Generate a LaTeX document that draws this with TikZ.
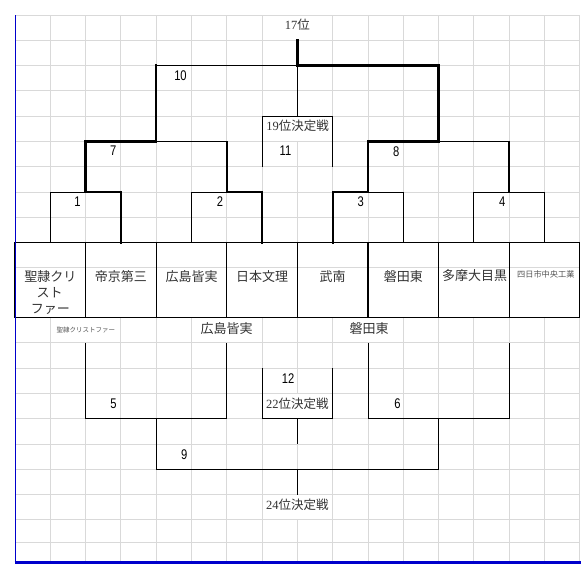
\documentclass[tikz,border=0pt]{standalone}
\usepackage{fontspec}
\usepackage{graphicx}
\newfontfamily\cjk{Noto Sans CJK JP}
\newfontfamily\serifd{Liberation Serif}
\newfontfamily\numf{Liberation Sans}
\definecolor{gridgray}{HTML}{D9D9D9}
\definecolor{tcol}{HTML}{333333}
\definecolor{smallcol}{HTML}{555555}
\definecolor{edgeblue}{HTML}{0000CC}
\begin{document}
\begin{tikzpicture}[x=1pt,y=-1pt,
  gridline/.style={draw=gridgray,line width=1pt},
  thinl/.style={draw=black,line width=1pt,line join=miter},
  medl/.style={draw=black,line width=1.7pt,line join=miter,line cap=rect},
  midl/.style={draw=black,line width=1.3pt,line join=miter},
  thkl/.style={draw=black,line width=2.4pt,line join=miter,line cap=rect},
  teambox/.style={draw=black,line width=1.3pt,minimum width=70.6pt,minimum height=74.8pt,inner sep=0pt,outer sep=0pt},
  team/.style={font=\cjk\fontsize{13}{16.5}\selectfont,text=tcol,align=center,inner sep=0pt},
  lbl/.style={font=\fontsize{12.5}{15}\selectfont,text=tcol,inner sep=0pt},
  num/.style={font=\numf\fontsize{14}{16}\selectfont,text=black,inner sep=0pt},
  tiny/.style={font=\cjk\fontsize{6.5}{8}\selectfont,text=smallcol,inner sep=0pt}
]
\useasboundingbox (0,0) rectangle (587,570);
\fill[white] (0,0) rectangle (587,570);
% grid: horizontal lines
\foreach \y in {15,40.3,65.6,90.9,116.2,141.5,166.8,192.1,217.4,267.6,342.8,368.1,393.4,418.7,444,469.3,494.6,519.9,542}
  \draw[gridline] (15,\y) -- (579.8,\y);
% grid: vertical lines
\foreach \x in {50.3,85.6,120.9,156.2,191.5,226.8,262.1,297.4,332.7,368,403.3,438.6,473.9,509.2,544.5,579.8}{
  \draw[gridline] (\x,15) -- (\x,242.7);
  \draw[gridline] (\x,317.5) -- (\x,563);
}
% merged cells: hide grid lines
\fill[white] (296,15.6) rectangle (298.8,39.7);
\fill[white] (296,116.8) rectangle (298.8,140.9);
\fill[white] (84.2,318.1) rectangle (87,342.2);
\fill[white] (225.4,318.1) rectangle (228.2,342.2);
\fill[white] (366.6,318.1) rectangle (369.4,342.2);
\fill[white] (296,394) rectangle (298.8,418.1);
\fill[white] (296,495.2) rectangle (298.8,519.3);
% team boxes
\node[teambox] (t1) at (50.3,280.1) {};
\node[teambox] (t2) at (120.9,280.1) {};
\node[teambox] (t3) at (191.5,280.1) {};
\node[teambox] (t4) at (262.1,280.1) {};
\node[teambox] (t5) at (332.7,280.1) {};
\node[teambox] (t6) at (403.3,280.1) {};
\node[teambox] (t7) at (473.9,280.1) {};
\node[teambox] (t8) at (544.5,280.1) {};
\draw[gridline] (16,267.6) -- (579,267.6);
\foreach \x in {85.6,156.2,226.8,297.4,368,438.6,509.2}
  \draw[black,line width=1.3pt] (\x,242.7) -- (\x,317.5);
\draw[black,line width=1.3pt] (15,242.7) rectangle (579.8,317.5);
% team names
\node[team] (n1a) at (50.3,276.3) {聖隷クリ};
\node[team] (n1b) at (49.5,293) {スト};
\node[team] (n1c) at (50.3,309.3) {ファー};
\node[team] (n2) at (120.9,276.3) {帝京第三};
\node[team] (n3) at (191.5,276.3) {広島皆実};
\node[team] (n4) at (262.1,276.3) {日本文理};
\node[team] (n5) at (332.7,276.3) {武南};
\node[team] (n6) at (403.3,276.3) {磐田東};
\node[team] (n7) at (474.7,275.8) {多摩大目黒};
\node[font=\cjk\fontsize{8.2}{10}\selectfont,text=smallcol,inner sep=0pt] (n8) at (545.8,274) {四日市中央工業};
% upper bracket: thin parts
\draw[thinl] (t1.north) -- (50.3,192.1) -- (85.6,192.1);
\draw[thinl] (t3.north) -- (191.5,192.1) -- (226.8,192.1);
\draw[thinl] (t6.north) -- (403.3,192.1) -- (368,192.1);
\draw[thinl] (t7.north) -- (473.9,192.1) -- (544.5,192.1) -- (t8.north);
\draw[thinl] (262.1,166.8) -- (262.1,116.2) -- (332.7,116.2) -- (332.7,166.8);
\draw[thinl] (297.4,65.6) -- (297.4,116.2);
% medium parts
\draw[midl] (156.2,65.6) -- (297.4,65.6);
\draw[medl] (226.8,192.1) -- (226.8,141.5) -- (156.2,141.5);
\draw[medl] (438.6,141.5) -- (509.2,141.5) -- (509.2,192.1);
% thick winner paths
\draw[thkl] (t2.north) -- (120.9,192.1) -- (85.6,192.1) -- (85.6,141.5) -- (156.2,141.5) -- (156.2,65.6);
\draw[thkl] (t4.north) -- (262.1,192.1) -- (226.8,192.1);
\draw[thkl] (t5.north) -- (332.7,192.1) -- (368,192.1) -- (368,141.5) -- (438.6,141.5) -- (438.6,65.6) -- (297.4,65.6) -- (297.4,40.3);
% upper labels
\node[lbl] (p17) at (297.4,24.7) {{\serifd 17}{\cjk 位}};
\node[lbl] (p19) at (297.7,126) {{\serifd 19}{\cjk 位決定戦}};
\node[num] (m10) at (180.5,76) {\scalebox{0.8}[1]{10}};
\node[num] (m7) at (113.3,151) {\scalebox{0.8}[1]{7}};
\node[num] (m11) at (285.5,150.5) {\scalebox{0.8}[1]{11}};
\node[num] (m8) at (396.3,151.3) {\scalebox{0.8}[1]{8}};
\node[num] (m1) at (77.5,201.7) {\scalebox{0.8}[1]{1}};
\node[num] (m2) at (220,201.7) {\scalebox{0.8}[1]{2}};
\node[num] (m3) at (360.7,201.7) {\scalebox{0.8}[1]{3}};
\node[num] (m4) at (502.3,201.7) {\scalebox{0.8}[1]{4}};
% lower labels
\node[tiny] (s1) at (85.8,330) {聖隷クリストファー};
\node[team] (s2) at (226.7,328.3) {広島皆実};
\node[team] (s3) at (369.2,328.3) {磐田東};
% lower bracket
\draw[thinl] (85.6,342.8) -- (85.6,418.7) -- (226.8,418.7) -- (226.8,342.8);
\draw[thinl] (368,342.8) -- (368,418.7) -- (509.2,418.7) -- (509.2,342.8);
\draw[thinl] (262.1,368.1) -- (262.1,418.7) -- (332.7,418.7) -- (332.7,368.1);
\draw[thinl] (297.4,418.7) -- (297.4,444);
\draw[thinl] (156.2,418.7) -- (156.2,469.3) -- (438.6,469.3) -- (438.6,418.7);
\draw[thinl] (297.4,469.3) -- (297.4,494.6);
\node[num] (m5) at (113.5,404) {\scalebox{0.8}[1]{5}};
\node[num] (m6) at (397.4,404) {\scalebox{0.8}[1]{6}};
\node[num] (m12) at (288,379) {\scalebox{0.8}[1]{12}};
\node[lbl] (p22) at (297.4,404) {{\serifd 22}{\cjk 位決定戦}};
\node[num] (m9) at (184.2,455) {\scalebox{0.8}[1]{9}};
\node[lbl] (p24) at (297.4,505) {{\serifd 24}{\cjk 位決定戦}};
% blue edges
\draw[edgeblue,line width=1pt] (15,15) -- (15,563);
\draw[edgeblue,line width=3pt] (14.5,562.5) -- (581,562.5);
\end{tikzpicture}
\end{document}
